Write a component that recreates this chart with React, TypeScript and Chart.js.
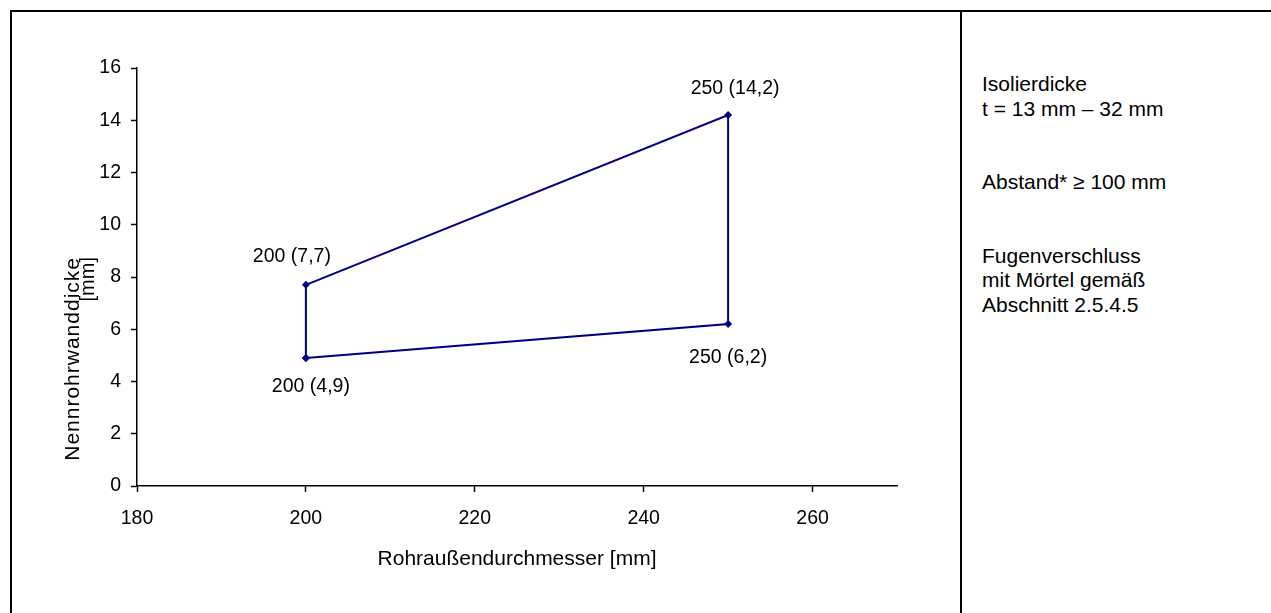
import { useEffect, useRef } from "react";
import { Chart, registerables } from "chart.js";

Chart.register(...registerables);

// ---- data ----
const xValues = [200, 200, 250, 250, 200];
const yValues = [4.9, 7.7, 14.2, 6.2, 4.9];
const labelCount = 4; // the last point only closes the polygon
const xTicks = [180, 200, 220, 240, 260];
const yTicks = [0, 2, 4, 6, 8, 10, 12, 14, 16];
const xMin = 180;
const xMax = 270;
const yMin = 0;
const yMax = 16;
const xTitle = "Rohraußendurchmesser [mm]";
const yTitleLines = ["Nennrohrwanddicke", "[mm]"];
const noteLines = [
  "Isolierdicke",
  "t = 13 mm – 32 mm",
  "",
  "",
  "Abstand* ≥ 100 mm",
  "",
  "",
  "Fugenverschluss",
  "mit Mörtel gemäß",
  "Abschnitt 2.5.4.5",
];

const FONT = '"Liberation Sans", Arial, sans-serif';
const LINE_COLOR = "#000080";

const fmt = (v: number) => String(v).replace(".", ",");

// label offsets relative to the point (style only)
const LABEL_OFFSETS: [number, number][] = [
  [5, 29],
  [-14, -28],
  [7, -26],
  [0, 34],
];

const pointLabelPlugin = {
  id: "pointLabels",
  afterDatasetsDraw(chart: any) {
    const ctx = chart.ctx;
    const meta = chart.getDatasetMeta(0);
    ctx.save();
    ctx.font = `19.5px ${FONT}`;
    ctx.fillStyle = "#000";
    ctx.textAlign = "center";
    ctx.textBaseline = "middle";
    for (let i = 0; i < labelCount; i++) {
      const pt = meta.data[i];
      const [dx, dy] = LABEL_OFFSETS[i];
      ctx.fillText(`${xValues[i]} (${fmt(yValues[i])})`, pt.x + dx, pt.y + dy);
    }
    ctx.restore();
  },
};

const yTitlePlugin = {
  id: "yTitle",
  afterDraw(chart: any) {
    const ctx = chart.ctx;
    ctx.save();
    ctx.translate(73, 257);
    ctx.rotate(-Math.PI / 2);
    ctx.fillStyle = "#000";
    ctx.textAlign = "right";
    ctx.textBaseline = "middle";
    yTitleLines.forEach((t, i) => {
      ctx.font = i === 0 ? `21px ${FONT}` : `20px ${FONT}`;
      (ctx as any).letterSpacing = i === 0 ? "1px" : "0px";
      ctx.fillText(t, 0, i * 15);
    });
    ctx.restore();
  },
};

export default function App() {
  const canvasRef = useRef<HTMLCanvasElement | null>(null);

  useEffect(() => {
    if (!canvasRef.current) return;
    const chart = new Chart(canvasRef.current, {
      type: "scatter",
      data: {
        datasets: [
          {
            data: xValues.map((x, i) => ({ x, y: yValues[i] })),
            showLine: true,
            borderColor: LINE_COLOR,
            backgroundColor: LINE_COLOR,
            borderWidth: 2,
            pointStyle: "rectRot",
            pointRadius: 4,
            pointBorderWidth: 0,
            tension: 0,
          },
        ],
      },
      options: {
        responsive: false,
        animation: false,
        events: [],
        layout: { padding: { left: 0, top: 68, right: 63, bottom: 0 } },
        plugins: {
          legend: { display: false },
          tooltip: { enabled: false },
        },
        scales: {
          x: {
            type: "linear",
            min: xMin,
            max: xMax,
            afterFit: (s: any) => {
              s.height = 127;
            },
            afterBuildTicks: (s: any) => {
              s.ticks = xTicks.map((v) => ({ value: v }));
            },
            ticks: {
              color: "#000",
              font: { family: FONT, size: 19.5 },
              padding: 15,
              maxRotation: 0,
            },
            grid: {
              drawOnChartArea: false,
              drawTicks: true,
              tickLength: 6,
              tickColor: "#000",
              tickWidth: 1.5,
            },
            border: { color: "#000", width: 1.5 },
            title: {
              display: true,
              text: xTitle,
              color: "#000",
              font: { family: FONT, size: 21 },
              padding: { top: 0, bottom: 41 },
            },
          },
          y: {
            type: "linear",
            min: yMin,
            max: yMax,
            afterFit: (s: any) => {
              s.width = 137;
            },
            afterBuildTicks: (s: any) => {
              s.ticks = yTicks.map((v) => ({ value: v }));
            },
            ticks: {
              color: "#000",
              font: { family: FONT, size: 19.5 },
              padding: 10,
            },
            grid: {
              drawOnChartArea: false,
              drawTicks: true,
              tickLength: 6,
              tickColor: "#000",
              tickWidth: 1.5,
            },
            border: { color: "#000", width: 1.5 },
          },
        },
      },
      plugins: [pointLabelPlugin, yTitlePlugin],
    } as any);
    return () => chart.destroy();
  }, []);

  return (
    <div
      style={{
        position: "fixed",
        left: 0,
        top: 0,
        width: 1271,
        height: 613,
        background: "#fff",
        overflow: "hidden",
        fontFamily: FONT,
      }}
    >
      <canvas
        ref={canvasRef}
        width={960}
        height={613}
        style={{ position: "absolute", left: 0, top: 0, width: 960, height: 613 }}
      />
      <div style={{ position: "absolute", left: 10, top: 10, width: 1261, height: 2, background: "#000" }} />
      <div style={{ position: "absolute", left: 10, top: 10, width: 2, height: 603, background: "#000" }} />
      <div style={{ position: "absolute", left: 960, top: 10, width: 2, height: 603, background: "#000" }} />
      <div
        style={{
          position: "absolute",
          left: 982,
          top: 72,
          fontSize: 21,
          lineHeight: "24.5px",
          color: "#000",
          whiteSpace: "pre",
        }}
      >
        {noteLines.map((t, i) => (
          <div key={i}>{t === "" ? "\u00a0" : t}</div>
        ))}
      </div>
    </div>
  );
}
